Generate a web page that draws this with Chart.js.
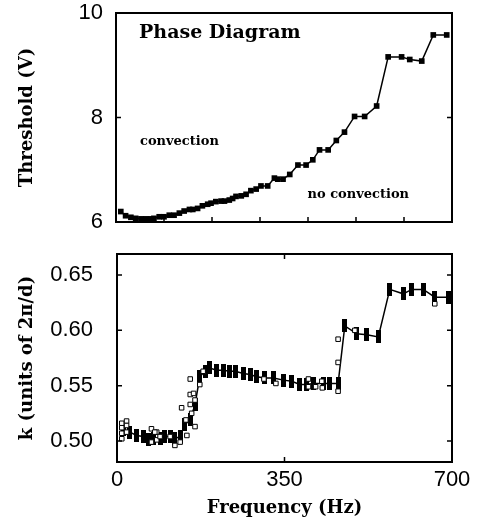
<!DOCTYPE html>
<html>
<head>
<meta charset="utf-8">
<script src="https://cdn.jsdelivr.net/npm/chart.js@4.4.1/dist/chart.umd.min.js"></script>
<style>
  html, body { margin: 0; padding: 0; background: #fff; }
  #wrap { position: relative; width: 479px; height: 531px; }
  canvas { position: absolute; left: 0; }
  #top { top: 0; }
  #bottom { top: 240px; }
</style>
</head>
<body>
<div id="wrap">
  <canvas id="top" width="479" height="240" style="width:479px;height:240px"></canvas>
  <canvas id="bottom" width="479" height="291" style="width:479px;height:291px"></canvas>
</div>
<script>
// threshold voltage vs drive frequency (top panel)
const thrFreq = [10, 20, 31, 41, 52, 62, 72, 79, 90, 100, 111, 121, 132, 142, 153, 160, 170, 180, 191, 198,
  208, 219, 226, 236, 243, 250, 261, 271, 281, 292, 302, 316, 330, 337, 348, 362, 379, 396, 410, 424,
  442, 459, 476, 497, 518, 543, 567, 595, 612, 637, 661, 689]
const thrVolt = [6.20, 6.12, 6.09, 6.07, 6.06, 6.06, 6.06, 6.07, 6.10, 6.10, 6.13, 6.13, 6.17, 6.21, 6.24, 6.24, 6.26, 6.31, 6.34, 6.36,
  6.39, 6.40, 6.40, 6.42, 6.45, 6.49, 6.50, 6.53, 6.60, 6.63, 6.69, 6.69, 6.84, 6.82, 6.82, 6.91, 7.09, 7.09, 7.19, 7.38,
  7.38, 7.56, 7.72, 8.02, 8.02, 8.22, 9.16, 9.16, 9.11, 9.08, 9.58, 9.58]

// wavenumber, averaged (connected) series
const kFreq = [13, 27, 41, 55, 66, 76, 90, 100, 111, 121, 132, 142, 153, 163, 173, 184, 194, 208, 222, 236,
  247, 264, 278, 292, 309, 327, 348, 365, 382, 396, 410, 431, 445, 462, 476, 501, 522, 546, 570, 598,
  616, 640, 664, 692]
const kVal = [0.510, 0.508, 0.505, 0.504, 0.501, 0.502, 0.502, 0.504, 0.504, 0.502, 0.504, 0.515, 0.519, 0.533, 0.558, 0.563, 0.566, 0.564, 0.564, 0.563,
  0.563, 0.561, 0.560, 0.558, 0.557, 0.557, 0.555, 0.554, 0.551, 0.551, 0.552, 0.552, 0.552, 0.552, 0.604, 0.597, 0.596, 0.594, 0.637, 0.633,
  0.637, 0.637, 0.630, 0.630]

// wavenumber, single measurements (open squares)
const openFreq = [10, 10, 10, 10, 20, 20, 20, 72, 72, 83, 83, 90, 111, 121, 132, 135, 144, 146, 153, 153,
  153, 156, 160, 163, 163, 173, 307, 332, 400, 400, 415, 428, 429, 462, 462, 462, 497, 664, 79, 180]
const openVal = [0.516, 0.512, 0.507, 0.502, 0.518, 0.514, 0.508, 0.511, 0.499, 0.508, 0.501, 0.504, 0.504, 0.496, 0.499, 0.530, 0.519, 0.505, 0.556, 0.542,
  0.533, 0.525, 0.543, 0.537, 0.513, 0.551, 0.556, 0.552, 0.556, 0.549, 0.549, 0.554, 0.548, 0.545, 0.592, 0.571, 0.600, 0.624, 0.508, 0.563]

const thrTicks = [6, 8, 10]
const kTicks = [0.50, 0.55, 0.60, 0.65]
const freqLabels = [0, 350, 700]
const freqMinor = [100, 200, 300, 400, 500, 600]

Chart.defaults.color = '#000'
Chart.defaults.animation = false

const tickFont = { family: 'Liberation Sans', size: 22 }
const titleFont = { family: 'DejaVu Serif', size: 18, weight: 'bold' }
const noteFont = 'bold 13px "DejaVu Serif"'

const pts = (xs, ys) => xs.map((x, i) => ({ x, y: ys[i] }))

function bar(w, h) {
  let c = document.createElement('canvas')
  c.width = w
  c.height = h
  let ctx = c.getContext('2d')
  ctx.fillStyle = '#000'
  ctx.fillRect(0, 0, w, h)
  return c
}

// keep the plot box exactly where layout.padding puts it
function noLabelPadding(s) {
  s.paddingTop = 0
  s.paddingBottom = 0
  s.paddingLeft = 0
  s.paddingRight = 0
}

// box around the plot, inward tick marks and the in-plot notes
const frame = {
  id: 'frame',
  afterDatasetsDraw(chart, args, opts) {
    let { ctx, chartArea: { left, right, top, bottom }, scales: { x, y } } = chart
    ctx.save()
    ctx.strokeStyle = '#000'
    ctx.lineWidth = 1.5
    ctx.beginPath()
    for (let v of opts.yTicks) {
      let py = y.getPixelForValue(v)
      ctx.moveTo(left, py); ctx.lineTo(left + 5, py)
      ctx.moveTo(right, py); ctx.lineTo(right - 5, py)
    }
    for (let v of opts.xBottom) {
      let px = x.getPixelForValue(v)
      ctx.moveTo(px, bottom); ctx.lineTo(px, bottom - 5)
    }
    for (let v of opts.xTop) {
      let px = x.getPixelForValue(v)
      ctx.moveTo(px, top); ctx.lineTo(px, top + 5)
    }
    ctx.stroke()
    ctx.lineWidth = 2
    ctx.strokeRect(left, top, right - left, bottom - top)

    ctx.fillStyle = '#000'
    ctx.textBaseline = 'alphabetic'
    for (let n of opts.notes) {
      ctx.font = n.font
      ctx.fillText(n.text, x.getPixelForValue(n.x), y.getPixelForValue(n.y))
    }
    ctx.restore()
  }
}

new Chart(document.getElementById('top'), {
  type: 'scatter',
  data: {
    datasets: [{
      data: pts(thrFreq, thrVolt),
      showLine: true,
      borderColor: '#000',
      borderWidth: 1.5,
      backgroundColor: '#000',
      pointStyle: 'rect',
      pointRadius: 4,
      pointBorderWidth: 0
    }]
  },
  options: {
    responsive: false,
    layout: { padding: { left: 0, right: 27, top: 13, bottom: 18 } },
    plugins: {
      legend: { display: false },
      tooltip: { enabled: false },
      frame: {
        yTicks: thrTicks,
        xBottom: freqMinor,
        xTop: [],
        notes: [
          { text: 'Phase Diagram', x: 48, y: 9.52, font: 'bold 19px "DejaVu Serif"' },
          { text: 'convection', x: 50, y: 7.47, font: noteFont },
          { text: 'no convection', x: 399, y: 6.46, font: noteFont }
        ]
      }
    },
    scales: {
      x: { type: 'linear', min: 0, max: 700, display: false },
      y: {
        min: 6,
        max: 10,
        border: { display: false },
        grid: { display: false },
        afterBuildTicks: (s) => { s.ticks = thrTicks.map((value) => ({ value })) },
        afterFit: (s) => { s.width = 116; noLabelPadding(s) },
        ticks: { font: tickFont, padding: 5 },
        title: { display: true, text: 'Threshold (V)', font: titleFont, padding: { top: 17 } }
      }
    }
  },
  plugins: [frame]
})

new Chart(document.getElementById('bottom'), {
  type: 'scatter',
  data: {
    datasets: [{
      data: pts(openFreq, openVal),
      showLine: false,
      borderColor: '#000',
      borderWidth: 1,
      backgroundColor: '#fff',
      pointStyle: 'rect',
      pointRadius: 3.2
    }, {
      data: pts(kFreq, kVal),
      showLine: true,
      borderColor: '#000',
      borderWidth: 1.5,
      backgroundColor: '#000',
      pointStyle: bar(5, 13),
      pointRadius: 3
    }]
  },
  options: {
    responsive: false,
    layout: { padding: { left: 0, right: 27, top: 14, bottom: 0 } },
    plugins: {
      legend: { display: false },
      tooltip: { enabled: false },
      frame: {
        yTicks: kTicks,
        xBottom: [350],
        xTop: [350],
        notes: []
      }
    },
    scales: {
      x: {
        type: 'linear',
        min: 0,
        max: 700,
        border: { display: false },
        grid: { display: false },
        afterBuildTicks: (s) => { s.ticks = freqLabels.map((value) => ({ value })) },
        afterFit: (s) => { s.height = 69; noLabelPadding(s) },
        ticks: { font: tickFont, padding: -3, maxRotation: 0 },
        title: { display: true, text: 'Frequency (Hz)', font: titleFont, padding: { bottom: 12 } }
      },
      y: {
        min: 0.481,
        max: 0.669,
        border: { display: false },
        grid: { display: false },
        afterBuildTicks: (s) => { s.ticks = kTicks.map((value) => ({ value })) },
        afterFit: (s) => { s.width = 117; noLabelPadding(s) },
        ticks: { font: tickFont, padding: 16, callback: (v) => v.toFixed(2) },
        title: { display: true, text: 'k (units of 2π/d)', font: titleFont, padding: { top: 17 } }
      }
    }
  },
  plugins: [frame]
})
</script>
</body>
</html>
